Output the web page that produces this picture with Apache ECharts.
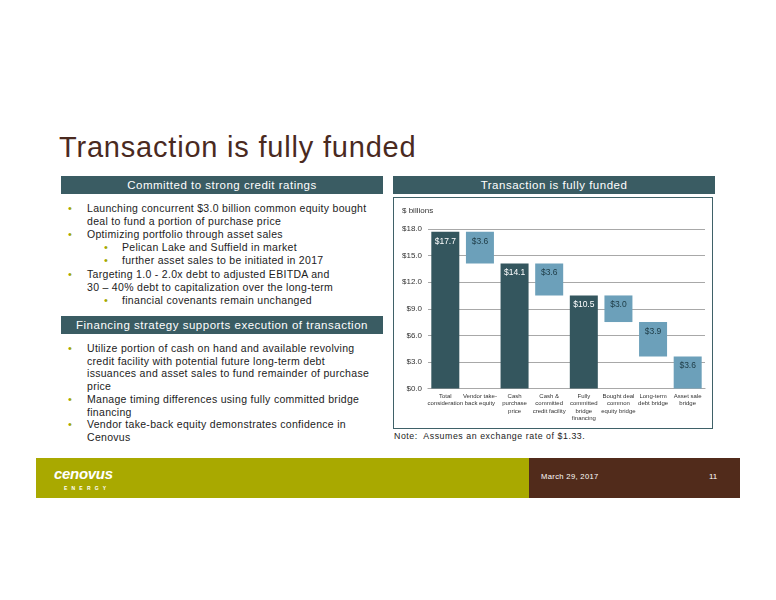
<!DOCTYPE html>
<html>
<head>
<meta charset="utf-8">
<script src="https://cdn.jsdelivr.net/npm/echarts@6/dist/echarts.min.js"></script>
<style>
  html, body { margin:0; padding:0; background:#fff; }
  body { width:776px; height:600px; position:relative; overflow:hidden; font-family:"Liberation Sans", Arial, sans-serif; }
  .abs { position:absolute; }
  #title { left:59px; top:129px; font-size:29px; color:#4a2a1f; letter-spacing:0.8px; white-space:nowrap; line-height:36px; }
  .hdr { background:#3a5c63; color:#fff; font-size:11.5px; letter-spacing:0.5px; text-align:center; line-height:18px; height:18px; white-space:nowrap; }
  .ln { font-size:10.5px; color:#222; letter-spacing:0.3px; white-space:nowrap; line-height:13px; }
  .bul { color:#a4a800; font-size:11px; line-height:13px; }
  #box { left:393px; top:197px; width:320px; height:232px; border:1.5px solid #3f6168; box-sizing:border-box; }
  #chart { left:393px; top:197px; width:322px; height:234px; }
  #note { left:394px; top:431px; font-size:8.8px; color:#222; letter-spacing:0.55px; white-space:nowrap; }
  #olive { left:36px; top:458px; width:493px; height:40px; background:#a9a900; }
  #brown { left:529px; top:458px; width:211px; height:40px; background:#512b1b; }
  #logo { left:54px; top:464px; font-size:15px; font-weight:bold; font-style:italic; color:#fff; letter-spacing:-0.3px; line-height:20px; }
  #energy { left:64px; top:485px; font-size:5px; color:#fff; letter-spacing:4.2px; font-weight:bold; }
  #date { left:541px; top:472px; font-size:7.6px; color:#fff; letter-spacing:0.35px; white-space:nowrap; }
  #page { left:709px; top:472px; font-size:8px; color:#fff; }
</style>
</head>
<body>
<div id="title" class="abs">Transaction is fully funded</div>

<div class="abs hdr" style="left:61px; top:176px; width:322px;">Committed to strong credit ratings</div>
<div class="abs hdr" style="left:393px; top:176px; width:322px;">Transaction is fully funded</div>

<div id="leftText"></div>

<div class="abs hdr" style="left:61px; top:316px; width:322px;">Financing strategy supports execution of transaction</div>

<div id="box" class="abs"></div>
<div id="chart" class="abs"></div>
<div id="note" class="abs">Note:&nbsp; Assumes an exchange rate of $1.33.</div>

<div id="olive" class="abs"></div>
<div id="brown" class="abs"></div>
<div id="logo" class="abs">cenovus</div>
<div id="energy" class="abs">ENERGY</div>
<div id="date" class="abs">March 29, 2017</div>
<div id="page" class="abs">11</div>

<script>
// ---------- Data ----------
const categories = [
  "Total\nconsideration",
  "Vendor take-\nback equity",
  "Cash\npurchase\nprice",
  "Cash &\ncommitted\ncredit facility",
  "Fully\ncommitted\nbridge\nfinancing",
  "Bought deal\ncommon\nequity bridge",
  "Long-term\ndebt bridge",
  "Asset sale\nbridge"
];
const barValues = [17.7, 3.6, 14.1, 3.6, 10.5, 3.0, 3.9, 3.6];
const barKinds  = ["total", "step", "total", "step", "total", "step", "step", "step"];
const yTicks = [0, 3, 6, 9, 12, 15, 18];

// Left column text lines: [level, text, yCenter]
const bulletLines = [
  [1, "Launching concurrent $3.0 billion common equity bought", 209],
  [0, "deal to fund a portion of purchase price", 222],
  [1, "Optimizing portfolio through asset sales", 235],
  [2, "Pelican Lake and Suffield in market", 248],
  [2, "further asset sales to be initiated in 2017", 261],
  [1, "Targeting 1.0 - 2.0x debt to adjusted EBITDA and", 275],
  [0, "30 \u2013 40% debt to capitalization over the long-term", 288],
  [2, "financial covenants remain unchanged", 301],
  [1, "Utilize portion of cash on hand and available revolving", 349],
  [0, "credit facility with potential future long-term debt", 362],
  [0, "issuances and asset sales to fund remainder of purchase", 374],
  [0, "price", 387],
  [1, "Manage timing differences using fully committed bridge", 400],
  [0, "financing", 413],
  [1, "Vendor take-back equity demonstrates confidence in", 425],
  [0, "Cenovus", 438]
];

// ---------- Left text ----------
const lt = document.getElementById('leftText');
bulletLines.forEach(([lvl, txt, y]) => {
  const tx = lvl === 2 ? 122 : 87;
  if (lvl > 0) {
    const b = document.createElement('div');
    b.className = 'abs bul';
    b.style.left = (lvl === 2 ? 104 : 68) + 'px';
    b.style.top = (y - 7) + 'px';
    b.textContent = '\u2022';
    lt.appendChild(b);
  }
  const d = document.createElement('div');
  d.className = 'abs ln';
  d.style.left = tx + 'px';
  d.style.top = (y - 7) + 'px';
  d.textContent = txt;
  lt.appendChild(d);
});

// ---------- Waterfall ----------
const DARK = '#34565e', LIGHT = '#6ca0ba';
const bases = [];
let running = 0;
barValues.forEach((v, i) => {
  if (barKinds[i] === 'total') { bases.push(0); running = v; }
  else { running = running - v; bases.push(Math.max(0, running)); }
});

const chart = echarts.init(document.getElementById('chart'), null, { renderer: 'canvas' });
chart.setOption({
  animation: false,
  grid: { left: 35, right: 10, top: 32, bottom: 42.5, containLabel: false },
  graphic: [{
    type: 'text', left: 9, top: 10,
    style: { text: '$ billions', fontSize: 8, fill: '#333', fontFamily: 'Liberation Sans' }
  }],
  xAxis: {
    type: 'category',
    data: categories,
    axisLine: { lineStyle: { color: '#a8a8a8', width: 1.2 } },
    axisTick: { show: false },
    axisLabel: { interval: 0, fontSize: 6, lineHeight: 7.5, color: '#333', margin: 4, fontFamily: 'Liberation Sans' }
  },
  yAxis: {
    type: 'value',
    min: yTicks[0], max: yTicks[yTicks.length - 1], interval: 3,
    axisLine: { show: false },
    axisTick: { show: false },
    splitLine: { lineStyle: { color: '#a8a8a8', width: 1.2 } },
    axisLabel: { fontSize: 8, color: '#333', margin: 6, fontFamily: 'Liberation Sans',
                 formatter: v => '$' + v.toFixed(1) }
  },
  series: [
    {
      type: 'bar', stack: 'w', barWidth: 28, silent: true,
      itemStyle: { color: 'transparent' },
      data: bases
    },
    {
      type: 'bar', stack: 'w', barWidth: 28,
      data: barValues.map((v, i) => ({
        value: v,
        itemStyle: { color: barKinds[i] === 'total' ? DARK : LIGHT },
        label: { color: barKinds[i] === 'total' ? '#ffffff' : '#1d3a44' }
      })),
      label: {
        show: true, position: 'insideTop', distance: 5,
        fontSize: 8.5, fontFamily: 'Liberation Sans',
        formatter: p => '$' + p.value.toFixed(1)
      }
    }
  ]
});
</script>
</body>
</html>
